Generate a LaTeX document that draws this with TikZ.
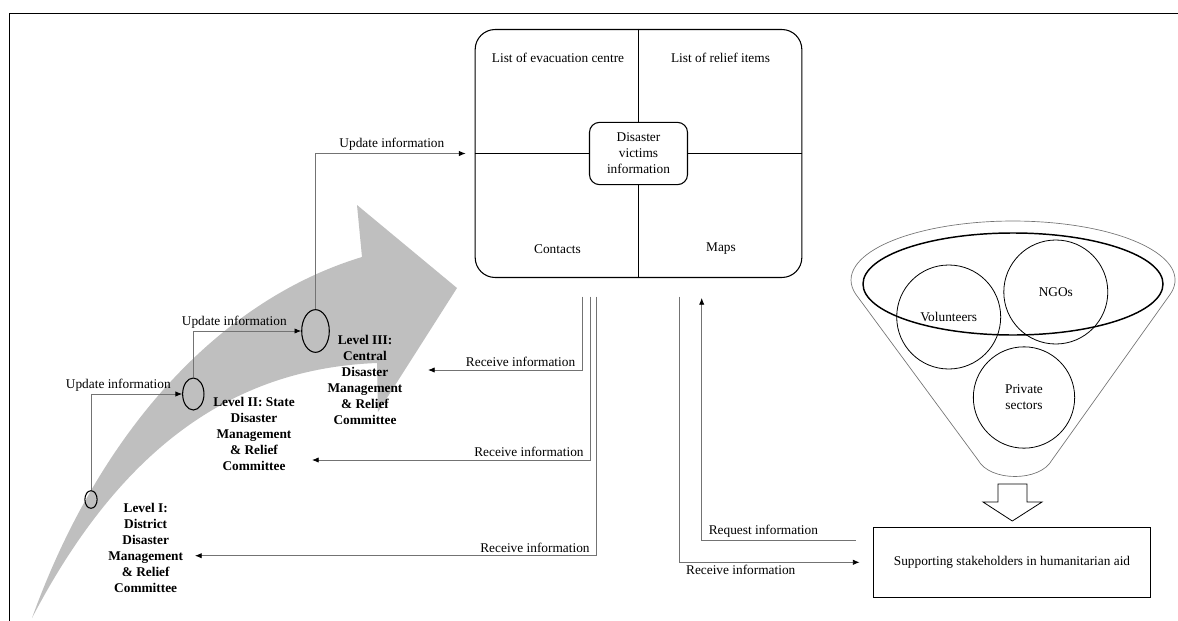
\documentclass[tikz,border=0pt]{standalone}
\usepackage{fontspec}
\setmainfont{Liberation Serif}
\usetikzlibrary{shapes.geometric,arrows.meta}

\begin{document}
\begin{tikzpicture}[x=0.75pt, y=-0.75pt,
	every node/.style={font=\fontsize{10}{12}\selectfont, align=center},
	tier/.style={draw, ellipse, inner sep=0pt, line width=0.8pt},
	tierlabel/.style={font=\fontsize{10}{12}\selectfont\bfseries},
	infoline/.style={draw=black!55, line width=0.6pt, -{Latex[color=black, length=5pt, width=4pt]}},
	actor/.style={draw, circle, minimum size=78pt, inner sep=0pt, line width=0.6pt}]
	\useasboundingbox (0,0) rectangle (1178,621);
	\draw[line width=1.2pt] (9.5,621) -- (9.5,13.5) -- (1178,13.5);
	\fill[black!25] (32,618) .. controls (100,430) and (220,300) .. (362,257) -- (357,205) -- (457,288) -- (378,412) -- (377,363) .. controls (250,368) and (130,430) .. (32,618) -- cycle;

	\node[draw, rounded corners=15pt, minimum width=245pt, minimum height=186pt, line width=0.8pt] (info) at (638.5,153.5) {};
	\node[draw, fill=white, rounded corners=7.5pt, minimum width=73.5pt, minimum height=46.7pt, inner sep=1pt, line width=0.8pt] (victims) at (info.center) {Disaster\\victims\\information};
	\draw[line width=0.8pt] (info.north) -- (victims.north);
	\draw[line width=0.8pt] (info.south) -- (victims.south);
	\draw[line width=0.8pt] (info.west) -- (victims.west);
	\draw[line width=0.8pt] (info.east) -- (victims.east);
	\node (evac) at (558,58) {List of evacuation centre};
	\node (relief) at (720.5,58) {List of relief items};
	\node (contacts) at (557.5,249) {Contacts};
	\node (maps) at (721,249) {Maps};

	\node[tier, minimum width=9.2pt, minimum height=13.2pt] (lvl1) at (91,499.5) {};
	\node[tier, minimum width=16pt, minimum height=24pt] (lvl2) at (193.3,394) {};
	\node[tier, minimum width=20.7pt, minimum height=32pt] (lvl3) at (315.5,331) {};
	\node[tierlabel] (lbl1) at (145.7,548) {Level I:\\District\\Disaster\\Management\\\& Relief\\Committee};
	\node[tierlabel] (lbl2) at (254,434) {Level II: State\\Disaster\\Management\\\& Relief\\Committee};
	\node[tierlabel] (lbl3) at (365,380) {Level III:\\Central\\Disaster\\Management\\\& Relief\\Committee};

	\draw[infoline] (lvl1.north) |- (lvl2.west) node[pos=0.65, above, inner sep=2pt] {Update information};
	\draw[infoline] (lvl2.north) |- (lvl3.west) node[pos=0.69, above, inner sep=2pt] {Update information};
	\draw[infoline, shorten >=6.75pt] (lvl3.north) |- (info.west) node[pos=0.74, above, inner sep=2pt] {Update information};

	\coordinate (in3) at (428,370);
	\coordinate (in2) at (312,460);
	\coordinate (in1) at (195,555.7);
	\draw[infoline] ([xshift=-42.2pt, yshift=-14pt]info.south) |- (in3) node[pos=0.5, anchor=south east, xshift=-3pt, inner sep=2pt] {Receive information};
	\draw[infoline] ([xshift=-35.9pt, yshift=-14pt]info.south) |- (in2) node[pos=0.5, anchor=south east, xshift=-3pt, inner sep=2pt] {Receive information};
	\draw[infoline] ([xshift=-31.4pt, yshift=-14pt]info.south) |- (in1) node[pos=0.5, anchor=south east, xshift=-3pt, inner sep=2pt] {Receive information};

	\draw[draw=black!55, line width=0.5pt] (1170.2,294.3) arc[start angle=14, end angle=-194, x radius=162, y radius=59] -- (978,460) .. controls (990,482) and (1040,482) .. (1052,460) -- cycle;
	\node[draw, ellipse, minimum width=225pt, minimum height=76.5pt, line width=1.1pt] (pool) at (1013,284) {};
	\node[actor] (vol) at (948.7,317) {Volunteers};
	\node[actor] (ngo) at (1055.8,292) {NGOs};
	\node[actor, minimum size=76pt] (priv) at (1024,397.5) {Private\\sectors};
	\draw[line width=0.6pt] (998,484) -- (1027,484) -- (1027,502) -- (1042,502) -- (1012.3,521) -- (983,502) -- (998,502) -- cycle;
	\node[draw, minimum width=208pt, minimum height=52.5pt, line width=0.6pt] (aid) at (1012,562.3) {Supporting stakeholders in humanitarian aid};

	\draw[infoline, shorten >=10pt] ([xshift=30.4pt, yshift=-14pt]info.south) |- (aid.west) node[pos=0.5, anchor=north west, xshift=3pt, inner sep=2pt] {Receive information};
	\draw[infoline] ([xshift=-12.75pt, yshift=16.7pt]aid.west) -| ([xshift=47.4pt, yshift=-15pt]info.south) node[pos=0.5, anchor=south west, xshift=3pt, inner sep=2pt] {Request information};
\end{tikzpicture}
\end{document}
